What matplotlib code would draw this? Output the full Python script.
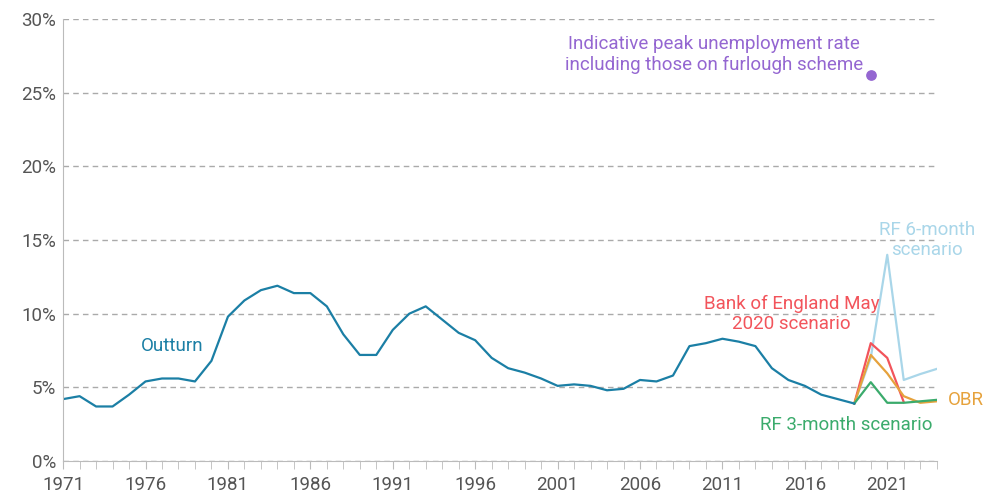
import matplotlib
matplotlib.use("Agg")
import matplotlib.pyplot as plt
from matplotlib.ticker import MultipleLocator, FuncFormatter

plt.rcParams['font.family'] = ['Roboto', 'DejaVu Sans']

# Outturn unemployment rate, 1971-2019 (%)
years = list(range(1971, 2020))
outturn = [4.2, 4.4, 3.7, 3.7, 4.5, 5.4, 5.6, 5.6, 5.4, 6.8,
           9.8, 10.9, 11.6, 11.9, 11.4, 11.4, 10.5, 8.6, 7.2, 7.2,
           8.9, 10.0, 10.5, 9.6, 8.7, 8.2, 7.0, 6.3, 6.0, 5.6,
           5.1, 5.2, 5.1, 4.8, 4.9, 5.5, 5.4, 5.8, 7.8, 8.0,
           8.3, 8.1, 7.8, 6.3, 5.5, 5.1, 4.5, 4.2, 3.9]

# Scenarios from 2019
scen_years = [2019, 2020, 2021, 2022, 2023, 2024]
rf6 = [3.9, 7.0, 14.0, 5.5, 5.9, 6.25]
boe = [3.9, 8.0, 7.0, 4.0]
obr = [3.9, 7.2, 5.95, 4.4, 3.95, 4.05]
rf3 = [3.9, 5.35, 3.95, 3.95, 4.05, 4.15]

peak_year = 2020
peak_rate = 26.2

c_out = '#1b7fa5'
c_rf6 = '#a9d6e9'
c_boe = '#f2545b'
c_obr = '#e6a23c'
c_rf3 = '#3bab6c'
c_peak = '#9466d1'
grey = '#555555'
fs = 13.5

fig, ax = plt.subplots(figsize=(9.86, 4.93), dpi=100)
fig.subplots_adjust(left=0.064, right=0.950, bottom=0.065, top=0.961)

ax.plot(scen_years, rf6, color=c_rf6, lw=1.6)
ax.plot(scen_years[:len(boe)], boe, color=c_boe, lw=1.6)
ax.plot(scen_years, obr, color=c_obr, lw=1.6)
ax.plot(scen_years, rf3, color=c_rf3, lw=1.6)
ax.plot(years, outturn, color=c_out, lw=1.6)
ax.scatter([peak_year], [peak_rate], color=c_peak, s=45, zorder=5)

ax.set_xlim(1971, 2024)
ax.set_ylim(0, 30)
ax.yaxis.set_major_locator(MultipleLocator(5))
ax.yaxis.set_major_formatter(FuncFormatter(lambda v, p: f'{v:.0f}%'))
ax.xaxis.set_minor_locator(MultipleLocator(1))
ax.set_xticks(range(1971, 2025, 5))
ax.grid(axis='y', color='#aaaaaa', ls=(0, (4, 3)), lw=1)
ax.set_axisbelow(True)

for s in ['top', 'right']:
    ax.spines[s].set_visible(False)
for s in ['left', 'bottom']:
    ax.spines[s].set_color('#bbbbbb')
ax.tick_params(axis='y', length=0, labelsize=fs, colors=grey, pad=5)
ax.tick_params(axis='x', which='both', length=6, color='#bbbbbb', labelsize=fs, labelcolor=grey, pad=5)

ax.text(1977.6, 7.8, 'Outturn', color=c_out, fontsize=fs, ha='center', va='center')
ax.text(2015.2, 10.0, 'Bank of England May\n2020 scenario', color=c_boe, fontsize=fs,
        ha='center', va='center', linespacing=1.15)
ax.text(2023.4, 15.0, 'RF 6-month\nscenario', color=c_rf6, fontsize=fs,
        ha='center', va='center', linespacing=1.15)
ax.text(2024.7, 4.15, 'OBR', color=c_obr, fontsize=fs, ha='left', va='center', clip_on=False)
ax.text(2018.5, 2.45, 'RF 3-month scenario', color=c_rf3, fontsize=fs, ha='center', va='center')
ax.text(2010.5, 27.6, 'Indicative peak unemployment rate\nincluding those on furlough scheme',
        color=c_peak, fontsize=fs, ha='center', va='center', linespacing=1.15)

fig.savefig('out.png', dpi=100)
